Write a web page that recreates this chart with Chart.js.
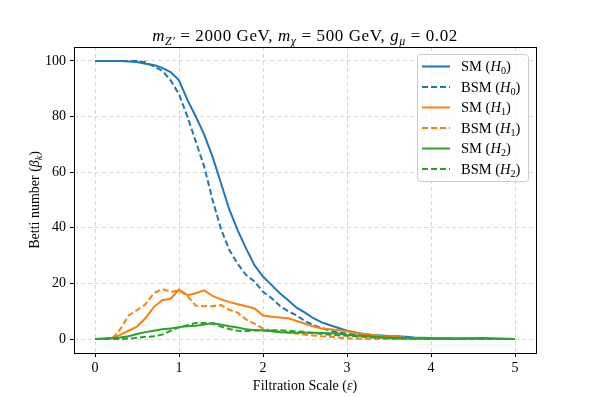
<!DOCTYPE html>
<html>
<head>
<meta charset="utf-8">
<script src="https://cdn.jsdelivr.net/npm/chart.js@4.4.0/dist/chart.umd.min.js"></script>
<style>html,body{margin:0;padding:0;background:#fff}</style>
</head>
<body>
<canvas id="betti" width="595" height="397"></canvas>
<script>
// Filtration scale (x) and Betti numbers
const epsilon = [0, 0.1, 0.2, 0.3, 0.4, 0.5, 0.6, 0.7, 0.8, 0.9,
  1.0, 1.1, 1.2, 1.3, 1.4, 1.5, 1.6, 1.7, 1.8, 1.9,
  2.0, 2.1, 2.2, 2.3, 2.4, 2.5, 2.6, 2.7, 2.8, 2.9,
  3.0, 3.1, 3.2, 3.3, 3.4, 3.5, 3.6, 3.7, 3.8, 3.9,
  4.0, 4.1, 4.2, 4.3, 4.4, 4.5, 4.6, 4.7, 4.8, 4.9, 5.0];

const smH0 = [100, 100, 100, 100, 99.8, 99.6, 99, 98.5, 97.5, 96,
  93, 86, 80, 73.5, 65.5, 56, 46.5, 39, 32.5, 26.5,
  22.5, 19.5, 16.5, 14, 11.3, 9.5, 7.5, 6, 5, 4,
  3, 2.4, 1.8, 1.5, 1.3, 1.1, 1, 0.8, 0.6, 0.5,
  0.4, 0.3, 0.3, 0.2, 0.2, 0.1, 0.1, 0.1, 0, 0, 0];
const bsmH0 = [100, 100, 100, 100, 100, 100, 99.5, 98, 96.5, 93,
  88, 80, 71, 62, 50, 39.5, 32, 27, 23, 20.7,
  17, 14.8, 12, 10, 8.5, 6.5, 5, 4, 3, 2.3,
  2, 1.5, 1.2, 1, 0.8, 0.7, 0.6, 0.5, 0.4, 0.3,
  0.3, 0.2, 0.2, 0.1, 0.1, 0.1, 0, 0, 0, 0, 0];
const smH1 = [0, 0, 0.3, 1.5, 3, 4.5, 7.5, 11.5, 14, 14.5,
  17.8, 15.8, 16.5, 17.5, 15.5, 14.3, 13.3, 12.5, 11.8, 11,
  8.5, 8, 7.8, 7.5, 6.5, 5.5, 4.5, 3.8, 3.5, 3.2,
  2.8, 2.2, 1.8, 1.5, 1.1, 0.9, 0.7, 0.5, 0.4, 0.3,
  0.2, 0.2, 0.1, 0.1, 0.1, 0, 0, 0, 0, 0, 0];
const bsmH1 = [0, 0, 0, 3.5, 8.5, 10.4, 12.5, 16.5, 18, 17,
  17.5, 15.5, 12, 11.8, 11.8, 12.2, 10.5, 9.5, 7, 5.5,
  3.8, 3, 2.7, 2.4, 2, 1.6, 1.3, 1, 0.8, 0.6,
  0.3, 0.2, 0.1, 0.1, 0, 0, 0, 0, 0, 0,
  0, 0, 0, 0, 0, 0, 0, 0, 0, 0, 0];
const smH2 = [0, 0.2, 0.4, 0.6, 1, 1.8, 2.5, 3, 3.5, 3.8,
  4.3, 4.6, 4.8, 5.2, 5.8, 5.2, 4.6, 4.2, 3.5, 3.2,
  3.2, 2.8, 2.5, 2.4, 2.3, 2.3, 2.3, 2.2, 2.1, 2,
  1.5, 1.3, 1.1, 0.9, 0.7, 0.6, 0.4, 0.3, 0.2, 0.2,
  0.2, 0.1, 0.1, 0.1, 0.2, 0.3, 0.4, 0.3, 0.2, 0.1, 0];
const bsmH2 = [0, 0, 0, 0, 0.2, 0.4, 0.8, 1, 1.6, 3,
  4.2, 5, 5.8, 5.8, 5.5, 4.5, 3.6, 3, 2.8, 3.2,
  3, 3.2, 3.2, 3, 2.8, 2.6, 2.2, 1.8, 1.6, 1.4,
  1.2, 1, 0.8, 0.6, 0.5, 0.4, 0.3, 0.2, 0.2, 0.1,
  0.1, 0, 0, 0, 0, 0, 0, 0, 0, 0, 0];

const xTicks = [0, 1, 2, 3, 4, 5];
const yTicks = [0, 20, 40, 60, 80, 100];

const seriesNames = ['SM', 'BSM', 'SM', 'BSM', 'SM', 'BSM'];
const homology = ['0', '0', '1', '1', '2', '2'];
const seriesValues = [smH0, bsmH0, smH1, bsmH1, smH2, bsmH2];
const colors = ['#1f77b4', '#1f77b4', '#ff7f0e', '#ff7f0e', '#2ca02c', '#2ca02c'];

const serif = "'Liberation Serif', 'DejaVu Serif', serif";

// little helper for text with italic / subscript pieces
function fontStr(st, size) {
  return (st.includes('i') ? 'italic ' : '') + size + 'px ' + serif;
}
function runsWidth(ctx, runs, size) {
  let w = 0;
  for (const [t, st] of runs) {
    ctx.font = fontStr(st, st.includes('s') ? size * 0.7 : size);
    w += ctx.measureText(t).width;
  }
  return w;
}
function drawRuns(ctx, runs, x, y, size, align) {
  let cx = align === 'center' ? x - runsWidth(ctx, runs, size) / 2 : x;
  ctx.textAlign = 'left';
  ctx.textBaseline = 'alphabetic';
  for (const [t, st] of runs) {
    const sub = st.includes('s');
    ctx.font = fontStr(st, sub ? size * 0.7 : size);
    ctx.fillText(t, cx, y + (sub ? size * 0.22 : 0));
    cx += ctx.measureText(t).width;
  }
}

const titleRuns = [['m', 'i'], ['Z\u2032', 'si'], [' = 2000 GeV, ', ''], ['m', 'i'], ['\u03c7', 'si'],
  [' = 500 GeV, ', ''], ['g', 'i'], ['\u03bc', 'si'], [' = 0.02', '']];
const xTitleRuns = [['Filtration Scale (', ''], ['\u03b5', 'i'], [')', '']];
const yTitleRuns = [['Betti number (', ''], ['\u03b2', 'i'], ['k', 'si'], [')', '']];

const decorations = {
  id: 'decorations',
  afterDraw(chart) {
    const ctx = chart.ctx;
    const a = chart.chartArea;
    ctx.save();
    ctx.strokeStyle = '#000';
    ctx.lineWidth = 1;
    ctx.setLineDash([]);
    ctx.strokeRect(a.left + 0.5, a.top + 0.5, a.right - a.left, a.bottom - a.top);

    ctx.fillStyle = '#000';
    const cx = (a.left + a.right) / 2;
    ctx.letterSpacing = '0.6px';
    drawRuns(ctx, titleRuns, cx, 41, 17, 'center');
    ctx.letterSpacing = '0px';
    drawRuns(ctx, xTitleRuns, cx, 390, 14, 'center');
    ctx.save();
    ctx.translate(39, (a.top + a.bottom) / 2);
    ctx.rotate(-Math.PI / 2);
    drawRuns(ctx, yTitleRuns, 0, 0, 14, 'center');
    ctx.restore();

    // legend box, upper right
    const bw = 111, bh = 127;
    const bx = a.right - 8 - bw, by = a.top + 7;
    ctx.beginPath();
    ctx.roundRect(bx + 0.5, by + 0.5, bw, bh, 3);
    ctx.fillStyle = 'rgba(255,255,255,0.8)';
    ctx.fill();
    ctx.strokeStyle = '#cccccc';
    ctx.stroke();
    seriesNames.forEach((name, i) => {
      const ry = by + 12.5 + i * 20.5;
      ctx.beginPath();
      ctx.strokeStyle = colors[i];
      ctx.lineWidth = 2;
      ctx.setLineDash(name === 'BSM' ? [6, 3] : []);
      ctx.moveTo(bx + 5, ry);
      ctx.lineTo(bx + 33, ry);
      ctx.stroke();
      ctx.setLineDash([]);
      ctx.fillStyle = '#000';
      drawRuns(ctx, [[name + ' (', ''], ['H', 'i'], [homology[i], 's'], [')', '']], bx + 44, ry + 4.5, 14.5, 'left');
    });
    ctx.restore();
  }
};

const datasets = seriesValues.map((vals, i) => ({
  label: seriesNames[i] + ' (H' + homology[i] + ')',
  data: epsilon.map((x, j) => ({ x: x, y: vals[j] })),
  borderColor: colors[i],
  borderWidth: 2,
  borderDash: seriesNames[i] === 'BSM' ? [6, 3] : [],
  pointRadius: 0,
  fill: false,
  tension: 0,
  order: seriesValues.length - i
}));

const gridOpts = {
  color: 'rgba(176,176,176,0.5)',
  lineWidth: 1,
  tickLength: 4,
  tickColor: '#000',
  tickWidth: 1
};

const chart = new Chart(document.getElementById('betti').getContext('2d'), {
  type: 'line',
  data: { datasets: datasets },
  options: {
    responsive: false,
    animation: false,
    devicePixelRatio: 1,
    layout: { padding: { top: 47, right: 59, bottom: 0, left: 0 } },
    plugins: { legend: { display: false }, title: { display: false }, tooltip: { enabled: false } },
    scales: {
      x: {
        type: 'linear',
        min: -0.25,
        max: 5.25,
        afterBuildTicks: s => { s.ticks = xTicks.map(v => ({ value: v })); },
        afterFit: s => { s.height = 44; },
        grid: gridOpts,
        border: { display: false, dash: [4, 3] },
        ticks: { color: '#000', font: { family: serif, size: 14 }, padding: 3, maxRotation: 0 }
      },
      y: {
        type: 'linear',
        min: -5,
        max: 105,
        afterBuildTicks: s => { s.ticks = yTicks.map(v => ({ value: v })); },
        afterFit: s => { s.width = 74; },
        grid: gridOpts,
        border: { display: false, dash: [4, 3] },
        ticks: { color: '#000', font: { family: serif, size: 14 }, padding: 4 }
      }
    }
  },
  plugins: [decorations]
});
</script>
</body>
</html>
